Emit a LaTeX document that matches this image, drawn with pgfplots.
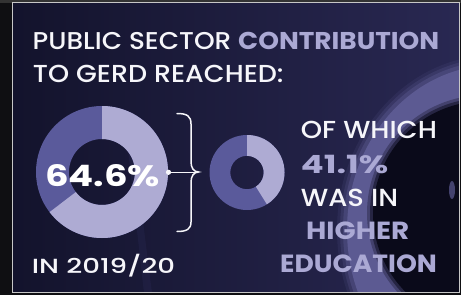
\documentclass[border=0pt]{standalone}
\usepackage{fontspec}
\setmainfont{Poppins}[UprightFont={* Medium}, BoldFont={* Bold}]
\usepackage{graphicx}
\usepackage{pgfplots}
\pgfplotsset{compat=1.18}
\definecolor{lav}{HTML}{ABA9D4}
\definecolor{donutlight}{HTML}{AEABD3}
\definecolor{donutdark}{HTML}{5A5A9B}
\definecolor{txt}{HTML}{F6F6FA}
\definecolor{outerbg}{HTML}{0F0F12}
\definecolor{navyL}{HTML}{13132C}
\definecolor{navyR}{HTML}{292852}
\definecolor{ringc}{HTML}{5C5A92}
\definecolor{lensdark}{HTML}{0A0A1A}
% data: shares (percent)
\def\publicshare{64.6}
\def\hershare{41.1}
\pgfmathsetmacro{\endA}{90-3.6*\publicshare}
\pgfmathsetmacro{\endB}{90-3.6*\hershare}
\begin{document}
\begin{tikzpicture}
\begin{axis}[
  width=461bp, height=295bp, scale only axis,
  xmin=0, xmax=461, ymin=0, ymax=295, y dir=reverse,
  hide axis, clip=false,
]
% background
\fill[outerbg] (axis cs:0,0) rectangle (axis cs:461,295);
\fill[black!80!white] (axis cs:0,0) rectangle (axis cs:461,3);
\shade[left color=navyL, right color=navyR] (axis cs:12.5,3) rectangle (axis cs:459.5,292.5);
\begin{scope}
\clip (axis cs:12.5,3) rectangle (axis cs:459.5,292.5);
\fill[ringc, opacity=0.15] (axis cs:495,230) ellipse[x radius=158bp, y radius=175bp];
\fill[ringc, opacity=0.25] (axis cs:495,230) ellipse[x radius=155bp, y radius=172bp];
\fill[ringc, opacity=0.4] (axis cs:495,230) ellipse[x radius=152bp, y radius=169bp];
\fill[ringc] (axis cs:495,230) ellipse[x radius=148bp, y radius=165bp];
\fill[lensdark, opacity=0.3] (axis cs:485,213) circle[radius=118bp];
\fill[lensdark, opacity=0.5] (axis cs:485,213) circle[radius=115bp];
\fill[lensdark] (axis cs:485,213) circle[radius=112bp];
\fill[ringc, opacity=0.7] (axis cs:452,190) ellipse[x radius=3bp, y radius=9bp];
\fill[navyR, opacity=0.35] (axis cs:128,150) -- (axis cs:134,150) -- (axis cs:152,293) -- (axis cs:144,293) -- cycle;
\end{scope}
\draw[black!22!white, line width=1bp] (axis cs:12.5,3) rectangle (axis cs:459.5,292.5);
% donut 1 : public sector share
\fill[donutdark, even odd rule] (axis cs:102,172) circle[radius=66bp] (axis cs:102,172) circle[radius=33bp];
\fill[donutlight, shift={(axis cs:102,172)}] (90:66bp) arc[start angle=90, end angle=\endA, radius=66bp] -- (\endA:33bp) arc[start angle=\endA, end angle=90, radius=33bp] -- cycle;
% donut 2 : higher education share
\fill[donutdark, even odd rule] (axis cs:247,172.5) circle[radius=37.5bp] (axis cs:247,172.5) circle[radius=16.7bp];
\fill[donutlight, shift={(axis cs:247,172.5)}] (90:37.5bp) arc[start angle=90, end angle=\endB, radius=37.5bp] -- (\endB:16.7bp) arc[start angle=\endB, end angle=90, radius=16.7bp] -- cycle;
% brace and connector
\draw[txt, line width=1.5bp, line cap=round]
  (axis cs:177,113.5) .. controls (axis cs:187,113.5) and (axis cs:191,116) .. (axis cs:191,124)
  -- (axis cs:191,162) .. controls (axis cs:191,168) and (axis cs:194,172) .. (axis cs:198.5,172)
  .. controls (axis cs:194,172) and (axis cs:191,176) .. (axis cs:191,182)
  -- (axis cs:191,222) .. controls (axis cs:191,229) and (axis cs:187,231.5) .. (axis cs:177,231.5);
\draw[txt, line width=1.2bp] (axis cs:168.5,172.3) -- (axis cs:198,172.3);
\fill[txt] (axis cs:168.5,172.3) circle[radius=2.6bp];
% texts
\node[anchor=base west, inner sep=0pt, text=txt] at (axis cs:32.5,49.3) {\resizebox{406.5bp}{17.3bp}{PUBLIC SECTOR \textbf{\textcolor{lav}{CONTRIBUTION}}}};
\node[anchor=base west, inner sep=0pt, text=txt] at (axis cs:32.7,82.5) {\resizebox{250.6bp}{17.3bp}{TO GERD REACHED:}};
\node[anchor=base west, inner sep=0pt, text=white] at (axis cs:45,186) {\resizebox{115bp}{22bp}{\textbf{64.6\%}}};
\node[anchor=base west, inner sep=0pt, text=txt] at (axis cs:31.7,273) {\resizebox{143.3bp}{19.3bp}{IN 2019/20}};
\node[anchor=base west, inner sep=0pt, text=txt] at (axis cs:300.7,138.3) {\resizebox{136bp}{17.3bp}{OF WHICH}};
\node[anchor=base west, inner sep=0pt, text=lav] at (axis cs:300.7,173.3) {\resizebox{87.3bp}{18.3bp}{\textbf{41.1\%}}};
\node[anchor=base west, inner sep=0pt, text=txt] at (axis cs:300.7,206.7) {\resizebox{97.3bp}{17.4bp}{WAS IN}};
\node[anchor=base west, inner sep=0pt, text=lav] at (axis cs:306,239.3) {\resizebox{103bp}{17.6bp}{\textbf{HIGHER}}};
\node[anchor=base west, inner sep=0pt, text=lav] at (axis cs:280,272.7) {\resizebox{156.7bp}{17.7bp}{\textbf{EDUCATION}}};
\end{axis}
\end{tikzpicture}
\end{document}
